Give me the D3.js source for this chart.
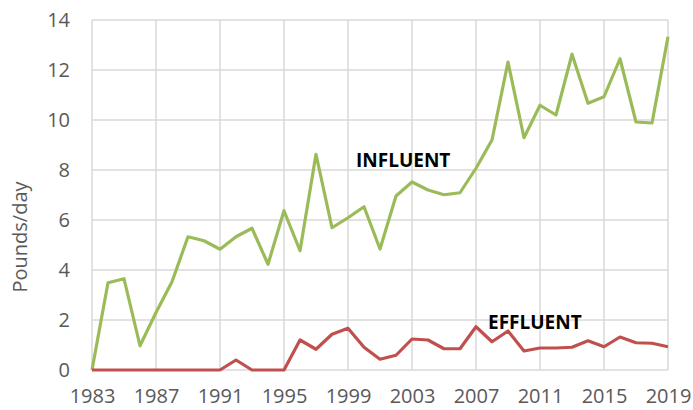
<!DOCTYPE html>
<html>
<head>
<meta charset="utf-8">
<script src="https://cdn.jsdelivr.net/npm/d3@7"></script>
<style>
  body { margin: 0; background: #fff; }
  svg text { font-family: "Open Sans", sans-serif; }
  .tick text { fill: #595959; font-size: 20px; }
</style>
</head>
<body>
<svg id="chart" width="693" height="410"></svg>
<script>
// years 1983..2019
var years = d3.range(1983, 2020);
var influent = [0, 3.49, 3.65, 0.97, 2.3, 3.53, 5.33, 5.17, 4.83, 5.33, 5.67, 4.23, 6.37, 4.77, 8.63, 5.69,
  6.09, 6.53, 4.84, 6.96, 7.52, 7.2, 7.01, 7.09, 8.07, 9.2, 12.32, 9.29, 10.59, 10.2, 12.63, 10.67,
  10.93, 12.45, 9.92, 9.88, 13.33];
var effluent = [0, 0, 0, 0, 0, 0, 0, 0, 0, 0.4, 0, 0, 0, 1.2, 0.83, 1.43,
  1.67, 0.91, 0.43, 0.59, 1.24, 1.2, 0.85, 0.85, 1.73, 1.13, 1.56, 0.76, 0.88, 0.88, 0.91, 1.17,
  0.93, 1.32, 1.09, 1.07, 0.93];
var xTicks = [1983, 1987, 1991, 1995, 1999, 2003, 2007, 2011, 2015, 2019];
var yTicks = [0, 2, 4, 6, 8, 10, 12, 14];

var svg = d3.select("#chart");
// plot area edges (avoid "top", it is a window global)
var plotLeft = 92, plotRight = 668, plotTop = 20, plotBottom = 370;

var x = d3.scaleLinear().domain([1983, 2019]).range([plotLeft, plotRight]);
var y = d3.scaleLinear().domain([0, 14]).range([plotBottom, plotTop]);

// gridlines
svg.append("g")
   .selectAll("line")
   .data(yTicks)
   .enter()
   .append("line")
   .attr("x1", plotLeft).attr("x2", plotRight)
   .attr("y1", function(d) { return y(d); })
   .attr("y2", function(d) { return y(d); })
   .attr("stroke", "#d9d9d9").attr("stroke-width", 1.5);

svg.append("g")
   .selectAll("line")
   .data(xTicks)
   .enter()
   .append("line")
   .attr("y1", plotTop).attr("y2", plotBottom)
   .attr("x1", function(d) { return x(d); })
   .attr("x2", function(d) { return x(d); })
   .attr("stroke", "#d9d9d9").attr("stroke-width", 1.5);

// axes (labels only)
var xAxis = svg.append("g")
   .attr("transform", "translate(0," + plotBottom + ")")
   .call(d3.axisBottom(x).tickValues(xTicks).tickFormat(d3.format("d")).tickSize(0).tickPadding(19));
xAxis.select(".domain").remove();

var yAxis = svg.append("g")
   .attr("transform", "translate(" + plotLeft + ",0)")
   .call(d3.axisLeft(y).tickValues(yTicks).tickSize(0).tickPadding(22));
yAxis.select(".domain").remove();

svg.selectAll(".tick text").style("font-family", "'Open Sans', sans-serif");

// y axis title
svg.append("text")
   .attr("transform", "translate(27,237) rotate(-90)")
   .attr("text-anchor", "middle")
   .attr("fill", "#595959")
   .style("font-size", "20px")
   .text("Pounds/day");

// lines
var line = function(values) {
  return d3.line()
    .x(function(d, i) { return x(years[i]); })
    .y(function(d) { return y(d); })(values);
};

svg.append("path")
   .attr("d", line(influent))
   .attr("fill", "none")
   .attr("stroke", "#9bbb59")
   .attr("stroke-width", 3.2)
   .attr("stroke-linejoin", "round");

svg.append("path")
   .attr("d", line(effluent))
   .attr("fill", "none")
   .attr("stroke", "#c0504d")
   .attr("stroke-width", 3.2)
   .attr("stroke-linejoin", "round");

// series labels
svg.append("text")
   .attr("x", 356).attr("y", 167)
   .style("font-size", "19px").style("font-weight", "bold")
   .attr("fill", "#000")
   .text("INFLUENT");

svg.append("text")
   .attr("x", 488).attr("y", 329)
   .style("font-size", "19px").style("font-weight", "bold")
   .attr("fill", "#000")
   .text("EFFLUENT");
</script>
</body>
</html>
